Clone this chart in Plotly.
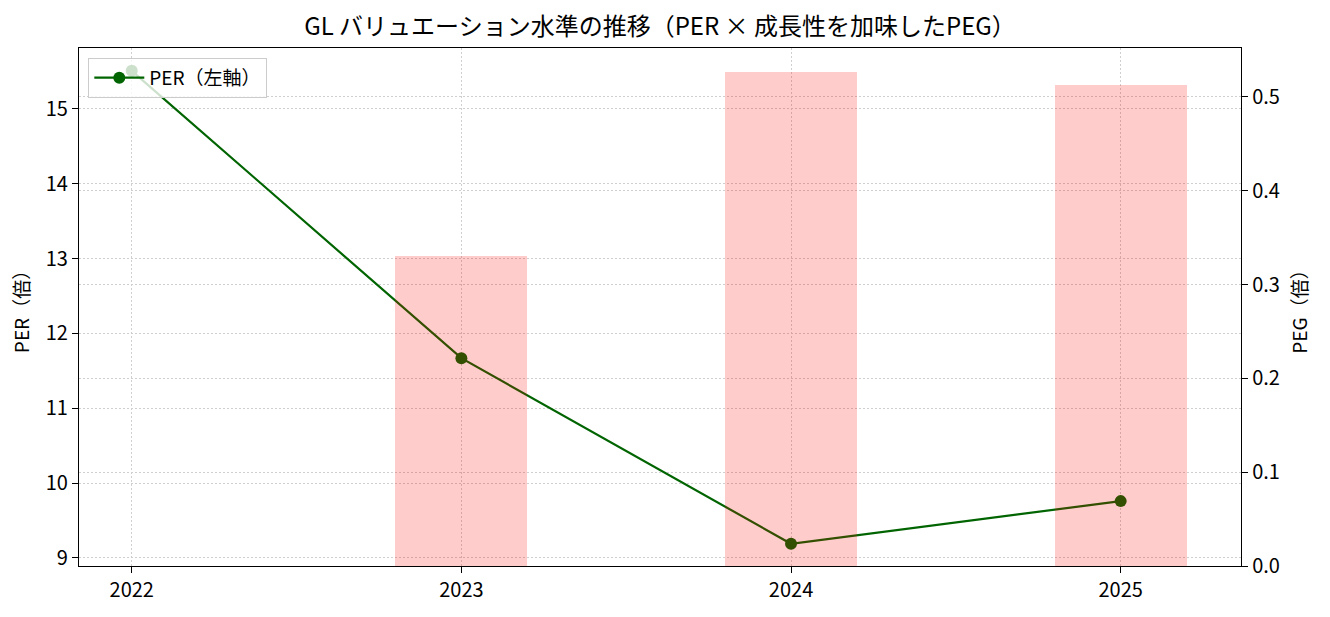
import plotly.graph_objects as go

years = [2022, 2023, 2024, 2025]
per = [15.51, 11.67, 9.19, 9.76]
peg = [None, 0.330, 0.527, 0.513]

title = "GL バリュエーション水準の推移（PER × 成長性を加味したPEG）"
FONT = "Liberation Sans Narrow, Noto Sans CJK JP"
grid_color = "#cfcfcf"

fig = go.Figure()
fig.add_trace(go.Scatter(
    x=years, y=per, mode="lines+markers", name="PER（左軸）",
    line=dict(color="#006400", width=2.2),
    marker=dict(color="#006400", size=12),
    yaxis="y",
))
fig.add_trace(go.Bar(
    x=years, y=peg, width=0.4, name="PEG（右軸）",
    marker=dict(color="rgba(255,0,0,0.2)", line=dict(width=0)),
    yaxis="y2", showlegend=False,
))

axis_common = dict(
    showline=True, linecolor="black", linewidth=1.3,
    ticks="outside", ticklen=6, tickwidth=1.2, tickcolor="black",
    showgrid=True, gridcolor=grid_color, griddash="2px,2px", gridwidth=1.2,
    zeroline=False, tickfont=dict(size=20, color="black", family=FONT),
)

fig.update_layout(
    width=1330, height=617,
    margin=dict(l=79, r=89, t=48, b=51),
    paper_bgcolor="white", plot_bgcolor="white",
    font=dict(family=FONT, color="black"),
    title=dict(text=title, x=0.5, xref="paper", y=1 - 27 / 617, yref="container",
               yanchor="middle", xanchor="center", font=dict(size=24, color="black")),
    xaxis=dict(
        **axis_common, mirror=True,
        tickmode="array", tickvals=years, ticktext=[str(y) for y in years],
        range=[2021.84, 2025.365],
    ),
    yaxis=dict(
        **axis_common, mirror=True,
        range=[8.893, 15.815], tickvals=[9, 10, 11, 12, 13, 14, 15],
        title=dict(text="PER（倍）", font=dict(size=19), standoff=10),
    ),
    yaxis2=dict(
        **axis_common, overlaying="y", side="right",
        range=[0, 0.5522], tickvals=[0, 0.1, 0.2, 0.3, 0.4, 0.5], tickformat=".1f",
        title=dict(text="PEG（倍）", font=dict(size=19), standoff=14),
    ),
    legend=dict(
        x=0.008, y=0.981, xanchor="left", yanchor="top",
        bgcolor="rgba(255,255,255,0.8)", bordercolor="#cccccc", borderwidth=1,
        font=dict(size=19, family=FONT), itemwidth=50,
    ),
    bargap=0,
)

fig.write_html("out.html")
